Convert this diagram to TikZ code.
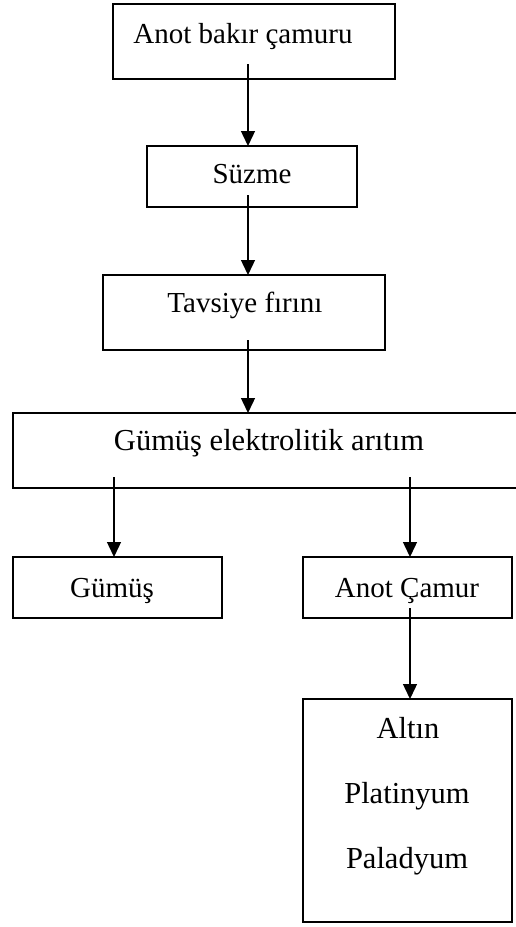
\documentclass[tikz,border=0pt]{standalone}
\usepackage{fontspec}
\setmainfont{Liberation Serif}
\usetikzlibrary{arrows.meta}
\begin{document}
\begin{tikzpicture}[x=1pt,y=-1pt,
  box/.style={draw, line width=1.7pt, inner sep=0pt, outer sep=0pt},
  arr/.style={line width=1.4pt, -{Triangle[length=15pt,width=14pt]}},
  lbl/.style={anchor=base, inner sep=0pt, font=\fontsize{29}{34}\selectfont},
  lblc/.style={anchor=base, inner sep=0pt, font=\fontsize{30.5}{36}\selectfont}]
\useasboundingbox (0,0) rectangle (516,927);
% boxes
\node[box, minimum width=282pt, minimum height=75pt] (b1) at (254,41.5) {};
\node[box, minimum width=210pt, minimum height=61pt] (b2) at (252,176.5) {};
\node[box, minimum width=282pt, minimum height=75pt] (b3) at (244,312.5) {};
\node[box, minimum width=517pt, minimum height=75pt] (b4) at (271.5,450.5) {};
\node[box, minimum width=209pt, minimum height=61pt] (b5) at (117.5,587.5) {};
\node[box, minimum width=209pt, minimum height=61pt] (b6) at (407.5,587.5) {};
\node[box, minimum width=209pt, minimum height=223pt] (b7) at (407.5,810.5) {};
% labels
\node[lbl] (t1) at (243,43) {Anot bakır çamuru};
\node[lbl] (t2) at (252,183) {Süzme};
\node[lbl] (t3) at (245,312) {Tavsiye fırını};
\node[lblc] (t4) at (269,450) {Gümüş elektrolitik arıtım};
\node[lbl] (t5) at (112,597) {Gümüş};
\node[lbl] (t6) at (407,597) {Anot Çamur};
\node[lblc] (t7) at (408,738) {Altın};
\node[lblc] (t8) at (407,803) {Platinyum};
\node[lblc] (t9) at (407,868) {Paladyum};
% arrow starts
\coordinate (s1) at (248,64);
\coordinate (s2) at (248,195);
\coordinate (s3) at (248,340);
\coordinate (s4) at (114,477);
\coordinate (s5) at (410,477);
\coordinate (s6) at (410,608);
% arrows
\draw[arr] (s1) -- (s1 |- b2.north);
\draw[arr] (s2) -- (s2 |- b3.north);
\draw[arr] (s3) -- (s3 |- b4.north);
\draw[arr] (s4) -- (s4 |- b5.north);
\draw[arr] (s5) -- (s5 |- b6.north);
\draw[arr] (s6) -- (s6 |- b7.north);
\end{tikzpicture}
\end{document}
